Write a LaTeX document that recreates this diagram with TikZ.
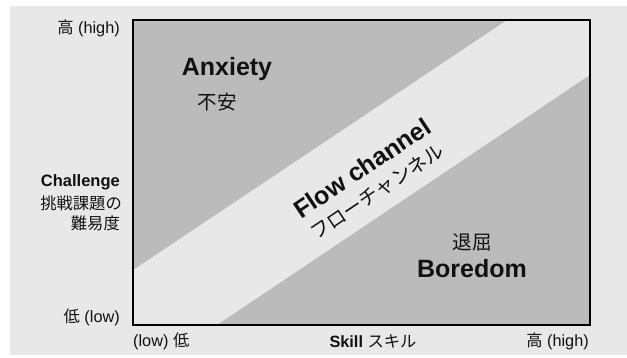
\documentclass[tikz,border=0pt]{standalone}
\usepackage{fontspec}
\setmainfont{Liberation Sans}
\newfontfamily\jp{Noto Sans CJK JP}
\definecolor{bgray}{HTML}{E8E8E8}
\definecolor{dgray}{HTML}{BBBBBC}
\definecolor{ink}{HTML}{111111}
\begin{document}
\begin{tikzpicture}[x=1pt,y=-1pt,
  lab/.style={inner sep=0pt, text=ink, font=\fontsize{16.3}{19}\selectfont},
  big/.style={inner sep=0pt, text=ink, font=\fontsize{25}{28}\selectfont\bfseries},
  jbig/.style={inner sep=0pt, text=ink, font=\fontsize{19.5}{22}\selectfont\jp},
  frame/.style={draw=black, line width=2.2pt}]
\useasboundingbox (0,0) rectangle (627,357);
\fill[white] (0,0) rectangle (627,357);
\fill[bgray] (10,6) rectangle (627,355);
% plot region
\coordinate (tl) at (133,20);
\coordinate (tr) at (590,20);
\coordinate (br) at (590,325);
\coordinate (bl) at (133,325);
\fill[bgray] (tl) rectangle (br);
\fill[dgray] (tl) -- (507,20) -- (133,270) -- cycle;
\fill[dgray] (217,325) -- (br) -- (590,75) -- cycle;
\draw[frame] (tl) rectangle (br);
% axis labels
\node[lab, anchor=east] (yhigh) at (120,28) {{\jp 高} (high)};
\node[lab, anchor=east, font=\fontsize{16.5}{19}\selectfont\bfseries] (chal) at (120,182) {Challenge};
\node[lab, anchor=east, font=\fontsize{16.3}{19}\selectfont\jp] (chal1) at (122,203) {挑戦課題の};
\node[lab, anchor=east, font=\fontsize{16.3}{19}\selectfont\jp] (chal2) at (120,223) {難易度};
\node[lab, anchor=east] (ylow) at (120,317) {{\jp 低} (low)};
\node[lab, anchor=west] (xlow) at (133,341) {(low) {\jp 低}};
\node[lab] (skill) at (373,341) {\textbf{Skill} {\jp スキル}};
\node[lab, anchor=east] (xhigh) at (589,341) {{\jp 高} (high)};
% regions
\node[big] (anx) at (227,69) {Anxiety};
\node[jbig] (anxj) at (217,102) {不安};
\node[jbig] (borj) at (472,242) {退屈};
\node[big] (bor) at (472,269) {Boredom};
\node[big, rotate=33.76] (flow) at (362,168) {Flow channel};
\node[jbig, rotate=33.76] (flowj) at (377,192) {フローチャンネル};
\end{tikzpicture}
\end{document}
